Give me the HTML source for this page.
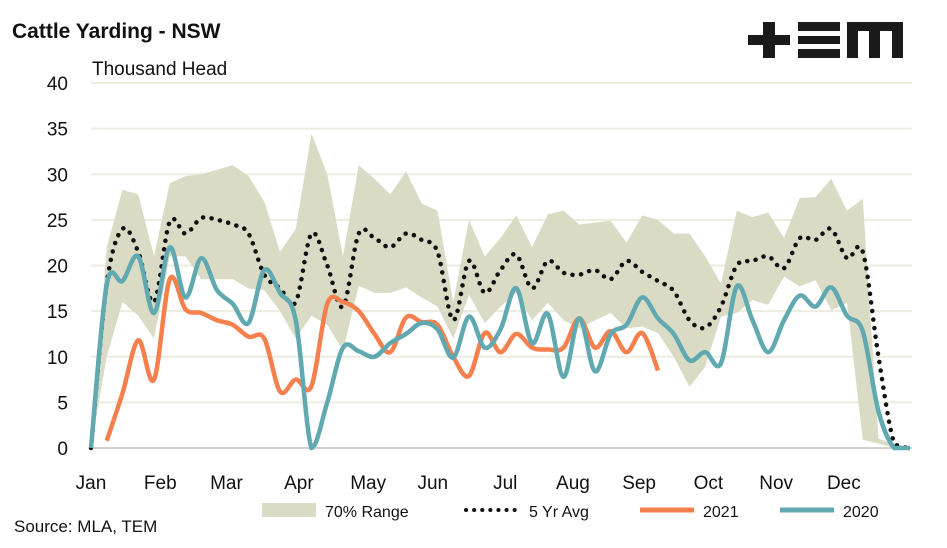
<!DOCTYPE html>
<html><head><meta charset="utf-8"><style>
body{margin:0;background:#fff;}
svg text{font-family:"Liberation Sans",sans-serif;}
</style></head><body>
<svg id="chart" width="947" height="543" viewBox="0 0 947 543" xmlns="http://www.w3.org/2000/svg">
<text x="12" y="38" font-size="21" font-weight="bold" fill="#111">Cattle Yarding - NSW</text>
<text x="92" y="75" font-size="19" fill="#111">Thousand Head</text>
<g fill="#1a1a1a">
<rect x="748" y="35" width="42" height="10"/><rect x="763" y="22" width="12" height="36"/>
<rect x="798" y="22" width="42" height="9"/><rect x="798" y="36" width="42" height="8"/><rect x="798" y="49" width="42" height="9"/>
<rect x="847" y="22" width="56" height="9"/><rect x="847" y="22" width="11" height="36"/><rect x="869" y="22" width="11" height="36"/><rect x="892" y="22" width="11" height="36"/>
</g>
<g id="grid"></g><g id="band"></g><g id="lines"></g><g id="axes"></g>
<g>
<rect x="262" y="503" width="54" height="14" fill="#d9dbc5"/>
<text x="325" y="517" font-size="16" fill="#111">70% Range</text>
<line x1="466" y1="510" x2="520" y2="510" stroke="#111" stroke-width="4" stroke-dasharray="0.1 8" stroke-linecap="round"/>
<text x="529" y="517" font-size="16" fill="#111">5 Yr Avg</text>
<line x1="640" y1="510" x2="694" y2="510" stroke="#f5804e" stroke-width="5"/>
<text x="703" y="517" font-size="16" fill="#111">2021</text>
<line x1="780" y1="510" x2="834" y2="510" stroke="#60a9b0" stroke-width="5"/>
<text x="843" y="517" font-size="16" fill="#111">2020</text>
</g>
<text x="14" y="532" font-size="17" fill="#111">Source: MLA, TEM</text>
</svg>
<script>
const months=["Jan","Feb","Mar","Apr","May","Jun","Jul","Aug","Sep","Oct","Nov","Dec"];
const monthWeeks=[0,4.4,8.6,13.2,17.6,21.7,26.3,30.6,34.8,39.2,43.5,47.8];
const yTicks=[0,5,10,15,20,25,30,35,40];
const rangeUpper=[0,22,28.3,27.8,21,29,29.8,30,30.5,31,29.8,27,21.5,24,34.5,30,21,31,29.5,27.8,30.3,26.8,26,16,25,21,23,25.5,22,25.6,26,24.5,24.7,24.9,22.5,25.5,25,23.5,23.5,21,18,26,25.3,25.8,23,27.4,27.5,29.5,26,27.3,1,0.5,0];
const rangeLower=[0,10,16,14.5,12,21,21,18.5,18.5,18.5,17.5,17.3,15,12,14.5,13.5,10.7,17.8,17,17,17.6,16.5,15.5,12,16.8,13.7,15.5,17,14,15.9,14,13.1,14,14.8,13.1,13.3,12.6,10,6.7,8.9,14.4,14.8,16.2,15.7,18.8,17.7,18.4,15.1,15.9,0.9,0.5,0,0];
const avg5yr=[0,18,24,21.5,16,24.8,23.5,25.2,25,24.5,23.5,19,17.5,16,23.5,20,15.5,23.5,23,22,23.5,22.8,21.5,14,20.5,17,19.5,21.2,17.5,20.5,19.2,19,19.5,18.5,20.5,19.3,18.3,17.2,14,13.2,15.5,20,20.5,21,19.7,23,22.8,24,20.8,21.5,10,0.5,0];
const y2020=[0,17.9,18.3,21,14.8,22,16.5,20.8,17.3,15.8,13.7,19.5,17,14,0,5,11,10.6,10,11.5,12.5,13.7,13,9.9,14.4,11,13,17.5,11.5,14.7,7.8,14.2,8.4,12.5,13.5,16.5,14.2,12.5,9.6,10.5,9.3,17.7,14,10.5,14,16.7,15.5,17.6,14.5,12.8,4,0,0];
const y2021=[null,0.8,6,11.8,7.5,18.5,15.2,14.8,14,13.5,12.2,12,6.2,7.5,6.8,15.8,16,15,12.5,10.5,14.3,13.8,13.5,10,7.9,12.6,10.5,12.5,11,10.8,11,14.2,11,12.8,10.5,12.6,8.5];
const X0=91,X1=910,Y0=448,Y1=83;
const xs=w=>X0+w*(X1-X0)/52, ys=v=>Y0-v*(Y0-Y1)/40;
const NS="http://www.w3.org/2000/svg";
function mk(t,a,p){const e=document.createElementNS(NS,t);for(const k in a)e.setAttribute(k,a[k]);p.appendChild(e);return e;}
const grid=document.getElementById('grid'),axes=document.getElementById('axes');
yTicks.forEach(v=>{
 const l=mk('line',{x1:X0,x2:912,y1:ys(v),y2:ys(v),stroke:v===0?'#d0d0d0':'#ecece0','stroke-width':2},grid);
 
 
 const t=mk('text',{x:68,y:ys(v)+7,'font-size':19,'text-anchor':'end',fill:'#111'},axes);t.textContent=v;
 
 
});
months.forEach((m,i)=>{
 const t=mk('text',{x:xs(monthWeeks[i]),y:489,'font-size':19,'text-anchor':'middle',fill:'#111'},axes);t.textContent=m;
 
 
});
let d='M'+rangeUpper.map((v,i)=>xs(i)+','+ys(v)).join('L');
for(let i=rangeLower.length-1;i>=0;i--)d+='L'+xs(i)+','+ys(rangeLower[i]);
const band=mk('path',{d:d+'Z',fill:'#d9dbc5'},document.getElementById('band'));


function smooth(arr){
 const p=[];arr.forEach((v,i)=>{if(v!==null)p.push([xs(i),ys(v)]);});
 const cy=y=>Math.min(Y0,y);
 let s='M'+p[0][0]+','+p[0][1];
 for(let i=0;i<p.length-1;i++){
  const a=p[Math.max(0,i-1)],b=p[i],c=p[i+1],e=p[Math.min(p.length-1,i+2)];
  s+='C'+(b[0]+(c[0]-a[0])/6)+','+cy(b[1]+(c[1]-a[1])/6)+' '+(c[0]-(e[0]-b[0])/6)+','+cy(c[1]-(e[1]-b[1])/6)+' '+c[0]+','+c[1];
 }
 return s;
}
const lg=document.getElementById('lines');
const la=mk('path',{d:smooth(avg5yr),fill:'none',stroke:'#111','stroke-width':4.5,'stroke-dasharray':'0.1 8.5','stroke-linecap':'round'},lg);


const l21=mk('path',{d:smooth(y2021),fill:'none',stroke:'#f5804e','stroke-width':4.5},lg);


const l20=mk('path',{d:smooth(y2020),fill:'none',stroke:'#60a9b0','stroke-width':4.5},lg);


</script>
</body></html>
